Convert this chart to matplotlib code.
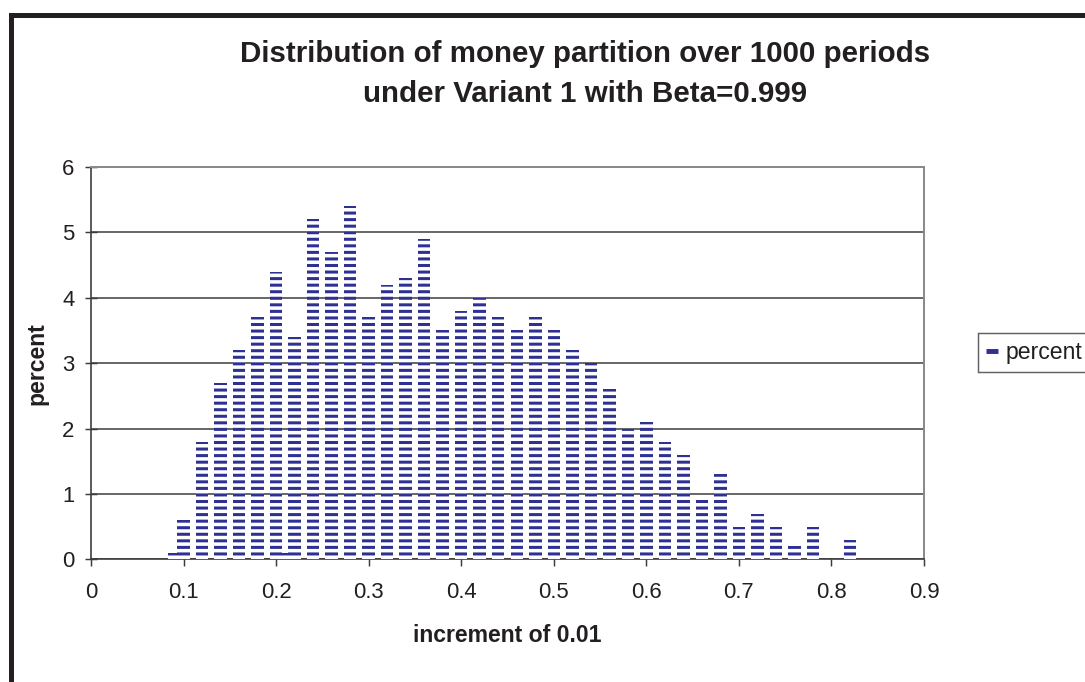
import matplotlib
matplotlib.use("Agg")
import matplotlib.pyplot as plt
from matplotlib.patches import Rectangle
from matplotlib.lines import Line2D

# Share of periods (percent) falling in each money-partition bin
partition = [0.09, 0.10, 0.12, 0.14, 0.16, 0.18, 0.20, 0.21, 0.22, 0.24,
             0.26, 0.28, 0.30, 0.32, 0.34, 0.36, 0.38, 0.40, 0.42, 0.44,
             0.46, 0.48, 0.50, 0.52, 0.54, 0.56, 0.58, 0.60, 0.62, 0.64,
             0.66, 0.68, 0.70, 0.72, 0.74, 0.76, 0.78, 0.82]
percent = [0.1, 0.6, 1.8, 2.7, 3.2, 3.7, 4.4, 0.1, 3.4, 5.2,
           4.7, 5.4, 3.7, 4.2, 4.3, 4.9, 3.5, 3.8, 4.0, 3.7,
           3.5, 3.7, 3.5, 3.2, 3.0, 2.6, 2.0, 2.1, 1.8, 1.6,
           0.9, 1.3, 0.5, 0.7, 0.5, 0.2, 0.5, 0.3]
x_ticks = [0, 0.1, 0.2, 0.3, 0.4, 0.5, 0.6, 0.7, 0.8, 0.9]
y_ticks = [0, 1, 2, 3, 4, 5, 6]

DPI = 118
W, H = 1085, 682
NAVY = "#2e3192"
INK = "#231f20"

plt.rcParams["font.family"] = ["Liberation Sans", "DejaVu Sans"]
plt.rcParams["hatch.linewidth"] = 1.85

fig = plt.figure(figsize=(W / DPI, H / DPI), dpi=DPI)
fig.patch.set_facecolor("white")

ax = fig.add_axes([91 / W, 1 - 559.3 / H, (924 - 91) / W, (559.3 - 167) / H])

ax.bar(partition, percent, width=0.0135, color="white", edgecolor=NAVY,
       linewidth=0, hatch="---", zorder=3)

ax.set_xlim(0, 0.9)
ax.set_ylim(0, 6)
ax.set_xticks(x_ticks)
ax.set_xticklabels([f"{v:g}" for v in x_ticks])
ax.set_yticks(y_ticks)

ax.yaxis.grid(True, color="#4a4a4a", linewidth=1.0, zorder=1)
ax.set_axisbelow(True)

for side in ("left", "bottom"):
    ax.spines[side].set_color("#3c3c3c")
    ax.spines[side].set_linewidth(1.0)
for side in ("top", "right"):
    ax.spines[side].set_color("#8a8a8a")
    ax.spines[side].set_linewidth(1.2)

ax.tick_params(axis="x", direction="out", length=4.3, width=0.9,
               color="#3c3c3c", pad=9.5, labelsize=13.5, labelcolor=INK)
ax.tick_params(axis="y", direction="inout", length=7.3, width=0.9,
               color="#3c3c3c", pad=6.5, labelsize=13.5, labelcolor=INK)

# Titles and axis labels
fig.text(585 / W, 1 - 54 / H, "Distribution of money partition over 1000 periods",
         ha="center", va="center", fontsize=18, fontweight="bold", color=INK)
fig.text(585 / W, 1 - 94 / H, "under Variant 1 with Beta=0.999",
         ha="center", va="center", fontsize=18, fontweight="bold", color=INK)
fig.text(507 / W, 1 - 636 / H, "increment of 0.01", ha="center", va="center",
         fontsize=14, fontweight="bold", color=INK)
fig.text(37 / W, 1 - 364 / H, "percent", ha="center", va="center",
         rotation=90, fontsize=14, fontweight="bold", color=INK)

# Legend
handle = Line2D([], [], color=NAVY, linewidth=3, solid_capstyle="butt")
leg = fig.legend([handle], ["percent"], loc="center left",
                 bbox_to_anchor=(978 / W, 1 - 352.5 / H),
                 fontsize=14, frameon=True, fancybox=False,
                 handlelength=0.5, handletextpad=0.35, borderpad=0.35,
                 borderaxespad=0)
leg.get_frame().set_edgecolor("#3c3c3c")
leg.get_frame().set_linewidth(0.9)
for t in leg.get_texts():
    t.set_color(INK)

# Outer chart frame
fig.patches.append(Rectangle((10.5 / W, -0.2), 1.5, 1 - 14.5 / H + 0.2,
                             transform=fig.transFigure, fill=False,
                             edgecolor=INK, linewidth=3.05))

fig.savefig("out.png", dpi=DPI)
